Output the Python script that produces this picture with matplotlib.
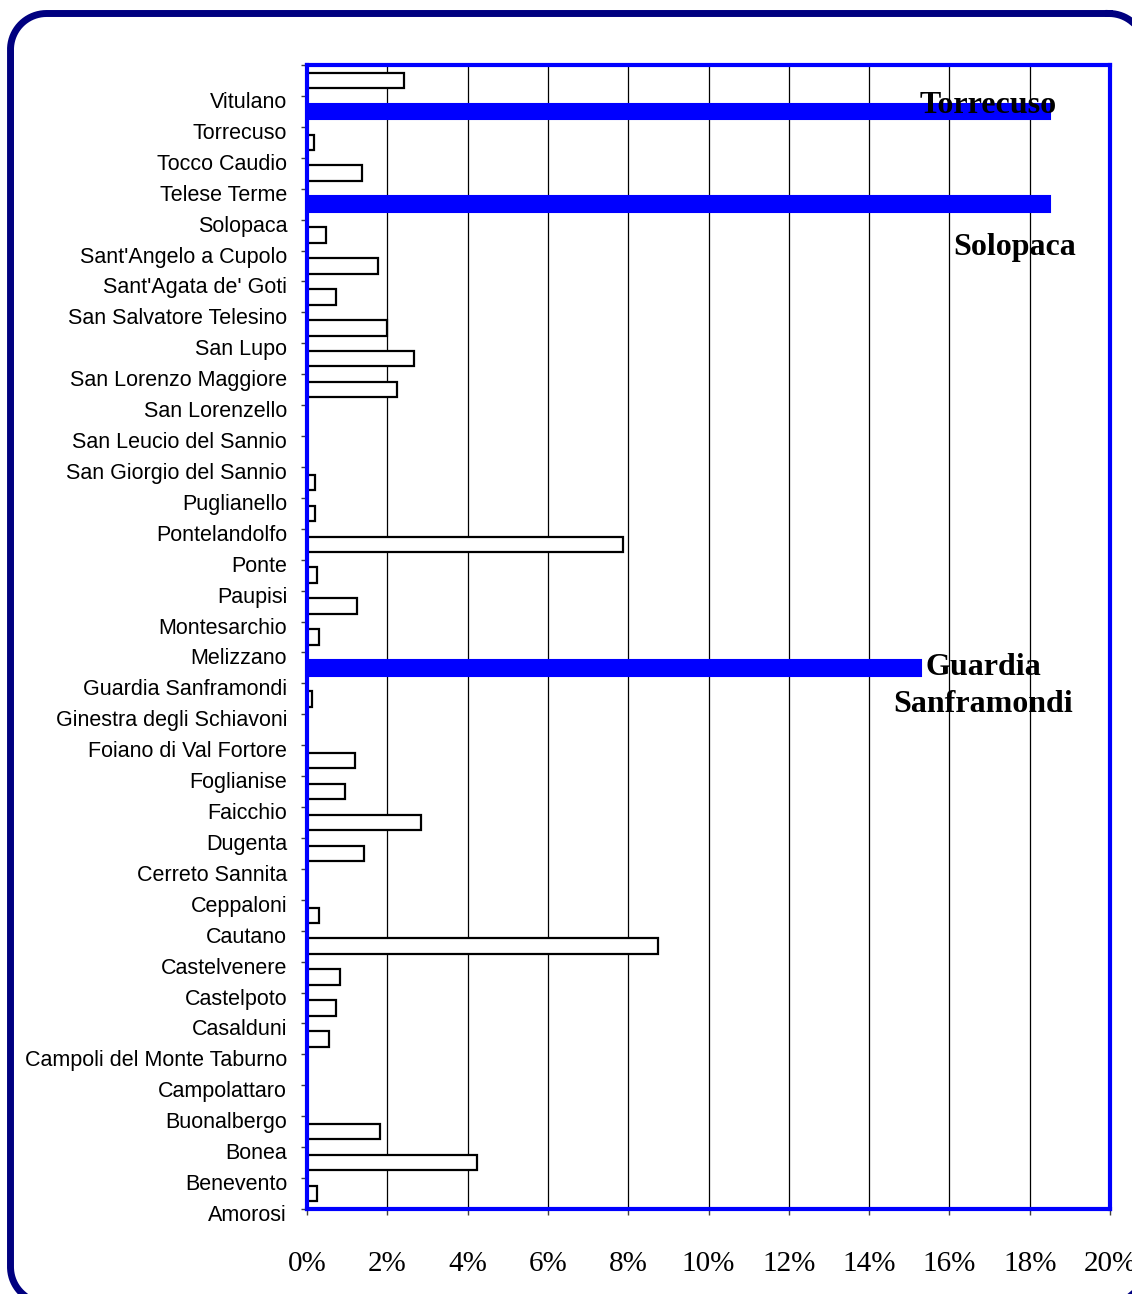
import matplotlib
matplotlib.use("Agg")
import matplotlib.pyplot as plt
import numpy as np
from matplotlib.transforms import ScaledTranslation

categories = ["Vitulano", "Torrecuso", "Tocco Caudio", "Telese Terme", "Solopaca",
              "Sant'Angelo a Cupolo", "Sant'Agata de' Goti", "San Salvatore Telesino",
              "San Lupo", "San Lorenzo Maggiore", "San Lorenzello", "San Leucio del Sannio",
              "San Giorgio del Sannio", "Puglianello", "Pontelandolfo", "Ponte", "Paupisi",
              "Montesarchio", "Melizzano", "Guardia Sanframondi", "Ginestra degli Schiavoni",
              "Foiano di Val Fortore", "Foglianise", "Faicchio", "Dugenta", "Cerreto Sannita",
              "Ceppaloni", "Cautano", "Castelvenere", "Castelpoto", "Casalduni",
              "Campoli del Monte Taburno", "Campolattaro", "Buonalbergo", "Bonea",
              "Benevento", "Amorosi"]
values = [2.42, 18.5, 0.17, 1.37, 18.5, 0.47, 1.77, 0.72, 2.0, 2.66, 2.24, 0.0, 0.0,
          0.2, 0.2, 7.87, 0.25, 1.25, 0.3, 15.3, 0.12, 0.0, 1.2, 0.95, 2.84, 1.42, 0.0,
          0.3, 8.74, 0.82, 0.72, 0.55, 0.0, 0.0, 1.82, 4.23, 0.25]
highlight = ["Torrecuso", "Solopaca", "Guardia Sanframondi"]
xticks = [0, 2, 4, 6, 8, 10, 12, 14, 16, 18, 20]

fig = plt.figure(figsize=(11.32, 12.94), dpi=100)

# background overlay axes in pixel units for the rounded frame
bg = fig.add_axes([0, 0, 1, 1], zorder=-1)
bg.set_xlim(0, 1132)
bg.set_ylim(1294, 0)
bg.axis("off")
L, T, R, B, rad = 10.5, 13.5, 1145.0, 1303.0, 36.0
xs, ys = [], []
corners = [(R - rad, T + rad, -90, 0), (R - rad, B - rad, 0, 90),
           (L + rad, B - rad, 90, 180), (L + rad, T + rad, 180, 270)]
for cx, cy, a0, a1 in corners:
    a = np.radians(np.linspace(a0, a1, 40))
    xs.extend(cx + rad * np.cos(a))
    ys.extend(cy + rad * np.sin(a))
xs.append(xs[0]); ys.append(ys[0])
bg.plot(xs, ys, color="#000080", linewidth=5, solid_joinstyle="round")

ax = fig.add_axes([307/1132, 1-1209/1294, (1110-307)/1132, (1209-65)/1294])

n = len(categories)
for i, (c, v) in enumerate(zip(categories, values)):
    if c in highlight:
        ax.barh(i + 0.5, v, height=0.5, color="#0000ff", edgecolor="#0000ff",
                linewidth=1.5, zorder=3)
    elif v > 0:
        ax.barh(i + 0.5, v, height=0.5, color="white", edgecolor="black",
                linewidth=1.6, zorder=3)

ax.set_xlim(0, 20)
ax.set_ylim(n, 0)
ax.set_yticks(range(n + 1))
ax.set_yticklabels([""] + categories, fontfamily="Liberation Sans", fontsize=15.5)
ax.set_xticks(xticks)
ax.set_xticklabels([f"{t}%" for t in xticks], fontfamily="Liberation Serif", fontsize=21)
ax.tick_params(axis="y", length=4.3, width=1, color="#404040", pad=10, direction="out")
ax.tick_params(axis="x", length=4.3, width=1, color="#404040", pad=26, direction="out")
shift = ScaledTranslation(0, -4/100, fig.dpi_scale_trans)
for lab in ax.get_yticklabels():
    lab.set_transform(lab.get_transform() + shift)
ax.grid(axis="x", color="black", linewidth=0.9, zorder=1)
for s in ax.spines.values():
    s.set_color("#0000ff")
    s.set_linewidth(3)
    s.set_zorder(5)

tf = dict(fontfamily="Liberation Serif", fontsize=23, fontweight="bold",
          ha="center", va="baseline", zorder=6)
ax.text(16.96, 1.55, "Torrecuso", **tf)
ax.text(17.63, 6.14, "Solopaca", **tf)
ax.text(16.85, 19.74, "Guardia", **tf)
ax.text(16.85, 20.92, "Sanframondi", **tf)

fig.savefig("out.png", dpi=100)
